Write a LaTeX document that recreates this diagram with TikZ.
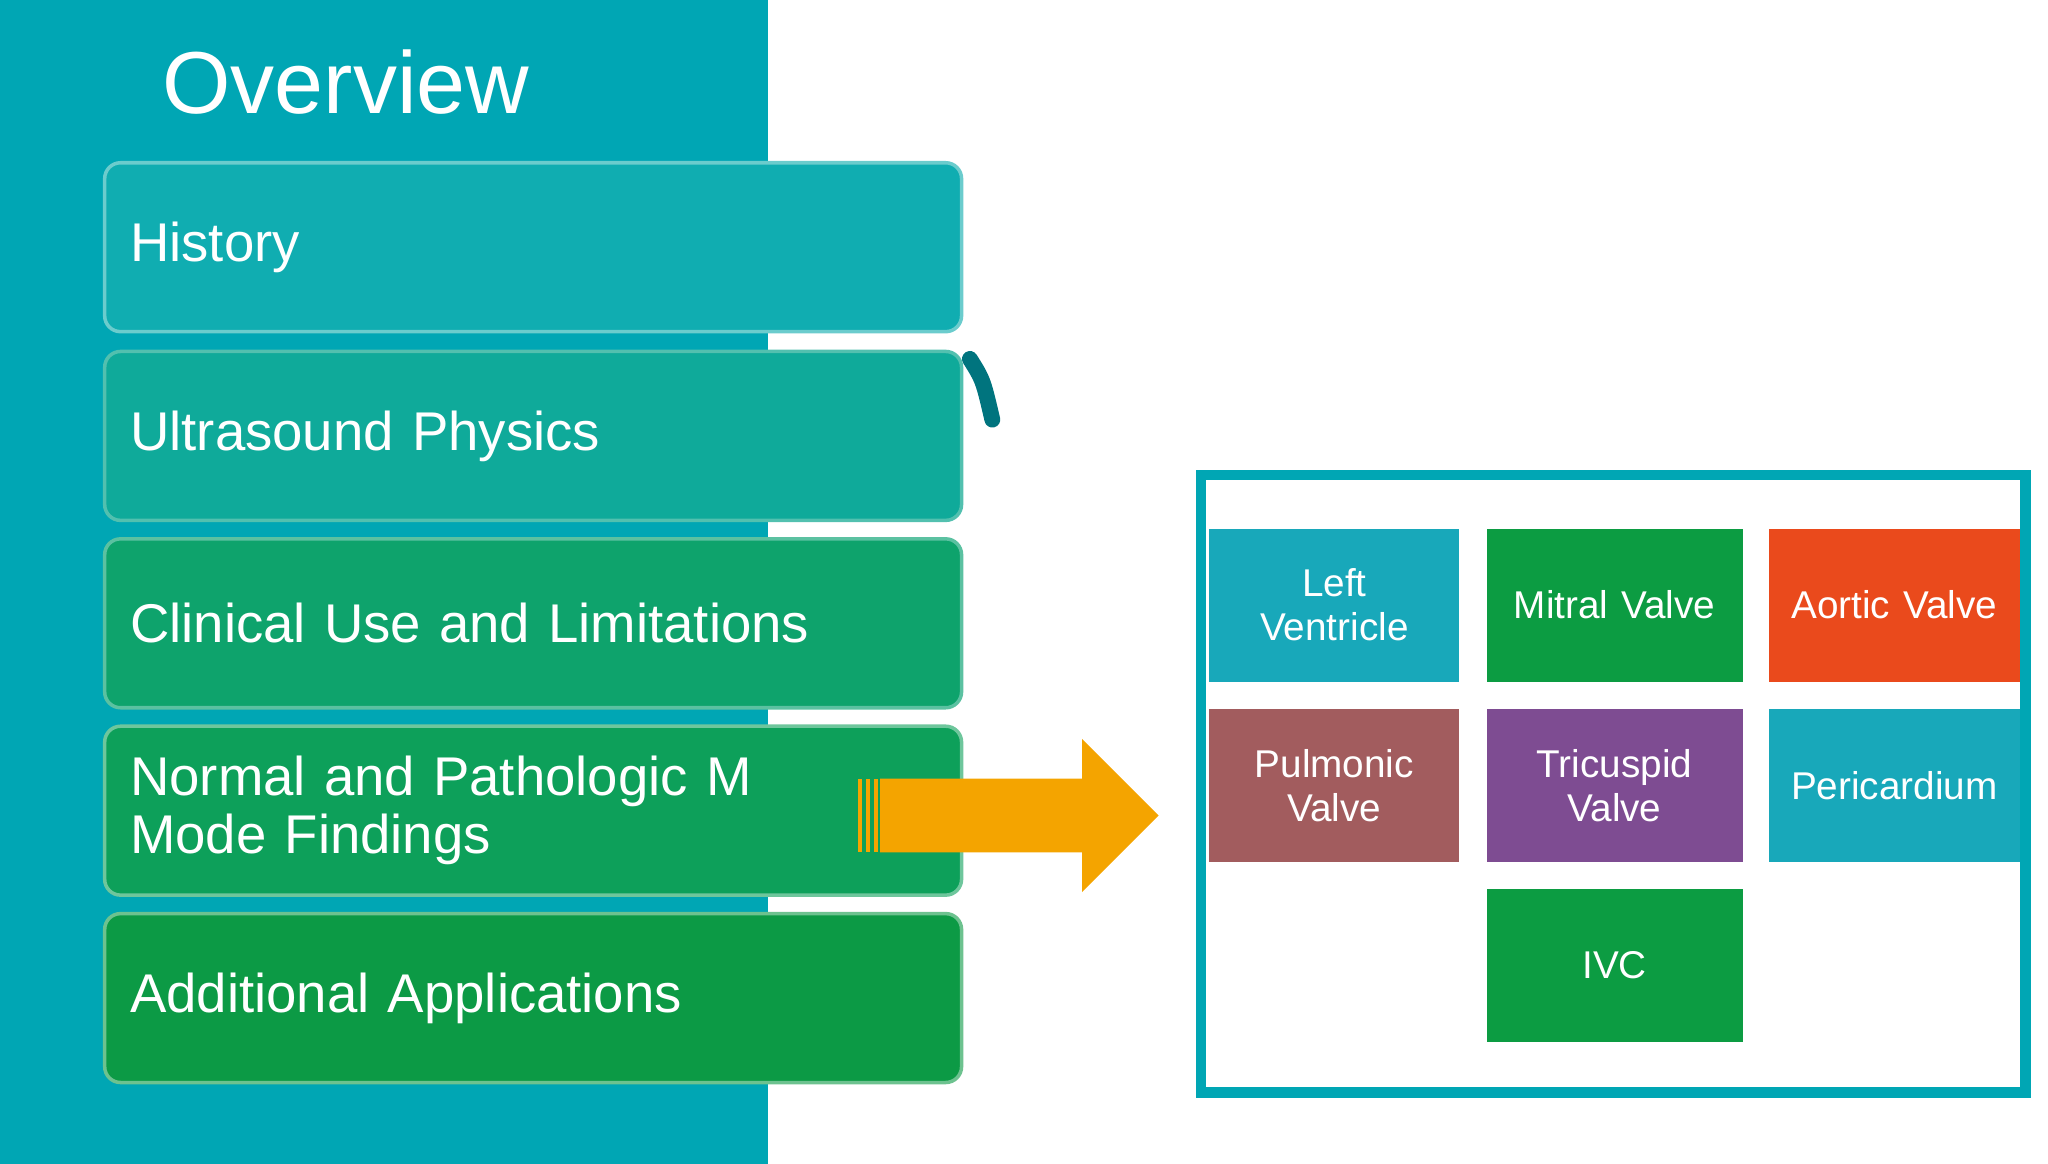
\documentclass[tikz,border=0pt]{standalone}
\usepackage{fontspec}
\setmainfont{Liberation Sans}
\definecolor{panel}{HTML}{00A6B4}
\definecolor{barA}{HTML}{10AEB6}
\definecolor{barB}{HTML}{0DA05A}
\definecolor{barC}{HTML}{0C9A45}
\definecolor{tileteal}{HTML}{18A8BA}
\definecolor{tilegreen}{HTML}{0C9C42}
\definecolor{tilered}{HTML}{EA4A1C}
\definecolor{tilerose}{HTML}{A25C5E}
\definecolor{tilepurple}{HTML}{7E4C92}
\definecolor{arroworange}{HTML}{F4A400}
\tikzset{every picture/.style={line width=0.75pt}}
\tikzset{
  bar/.style={rounded corners=9pt, minimum width=487pt, minimum height=96pt, anchor=north west,
    text width=458pt, align=left, text=white, font=\fontsize{31}{33}\selectfont, draw=white!40!#1, line width=2, fill=#1},
  tile/.style={minimum width=#1, minimum height=87pt, anchor=north west, text width=135pt, align=center,
    text=white, font=\fontsize{22}{25}\selectfont, inner sep=0},
}
\begin{document}
\begin{tikzpicture}[x=0.75pt,y=0.75pt,yscale=-1,xscale=1]
\useasboundingbox (0,0) rectangle (1552,882);

\fill [panel] (0,0) rectangle (582,882);
\node (title) at (262,62) [text=white, font=\fontsize{50}{52}\selectfont] {Overview};

\node [bar=barA!95!barB] (history) at (78,122) {History};
\node [bar=barA!70!barB] (physics) at (78,265) {Ultrasound Physics};
\node [bar=barB!80!barA] (clinical) at (78,407) {Clinical Use and Limitations};
\node [bar=barB] (mmode) at (78,549) {Normal and Pathologic M\\Mode Findings};
\node [bar=barC] (additional) at (78,691) {Additional Applications};

\draw [line width=9, line cap=round, color=panel!70!black] (735,272) .. controls (745,288) .. (752,318);

% arrow
\fill [arroworange] (667,590) -- (820,590) -- (820,560) -- (878,618) -- (820,676) -- (820,646) -- (667,646) -- cycle ;
\foreach \x in {650,656,662} \fill [arroworange] (\x,590) rectangle (\x+3,646);

% box
\draw [line width=6, color=panel] (910,360) rectangle (1535,828);
\node [tile=142pt, fill=tileteal] (lv) at (916,400) {Left\\Ventricle};
\node [tile=145.5pt, fill=tilegreen] (mitral) at (1126,400) {Mitral Valve};
\node [tile=142.5pt, fill=tilered] (aortic) at (1340,400) {Aortic Valve};
\node [tile=142pt, fill=tilerose] (pulmonic) at (916,537) {Pulmonic\\Valve};
\node [tile=145.5pt, fill=tilepurple] (tricuspid) at (1126,537) {Tricuspid\\Valve};
\node [tile=142.5pt, fill=tileteal] (pericardium) at (1340,537) {Pericardium};
\node [tile=145.5pt, fill=tilegreen] (ivc) at (1126,673) {IVC};

\end{tikzpicture}
\end{document}
